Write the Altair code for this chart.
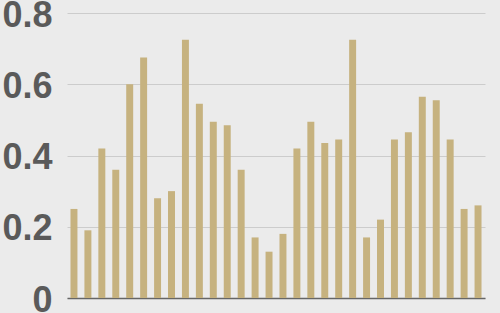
import altair as alt
import pandas as pd

categories = [f"c{i+1:02d}" for i in range(30)]
values = [0.25, 0.19, 0.42, 0.36, 0.60, 0.675, 0.28, 0.30, 0.725, 0.545,
          0.495, 0.485, 0.36, 0.17, 0.13, 0.18, 0.42, 0.495, 0.435, 0.445,
          0.725, 0.17, 0.22, 0.445, 0.465, 0.565, 0.555, 0.445, 0.25, 0.26]
y_ticks = [0, 0.2, 0.4, 0.6, 0.8]

df = pd.DataFrame({"cat": categories, "val": values})

chart = alt.Chart(df).mark_bar(color="#c6b27f").encode(
    x=alt.X("cat:N", sort=None, title=None,
            scale=alt.Scale(paddingInner=0.5, paddingOuter=0.25),
            axis=alt.Axis(labels=False, ticks=False, domain=True,
                          domainColor="#666666", domainWidth=1.5, grid=False)),
    y=alt.Y("val:Q", title=None,
            scale=alt.Scale(domain=[0, 0.8], nice=False),
            axis=alt.Axis(values=y_ticks, format="~g", domain=False, ticks=False,
                          grid=True, gridColor="#cccccc", gridWidth=1,
                          labelFontSize=36, labelFont="Liberation Sans",
                          labelColor="#5a5a5a", labelPadding=15,
                          labelBaseline="middle", labelOffset=2,
                          labelFontWeight="bold"))
).properties(
    width=418, height=285,
    background="#ebebeb",
    padding={"left": 67, "top": 13, "right": 15, "bottom": 15},
    autosize=alt.AutoSizeParams(type="none"),
).configure_view(stroke=None, fill="#ebebeb")

chart.save("out.html", embed_options={"renderer": "svg", "actions": False})
